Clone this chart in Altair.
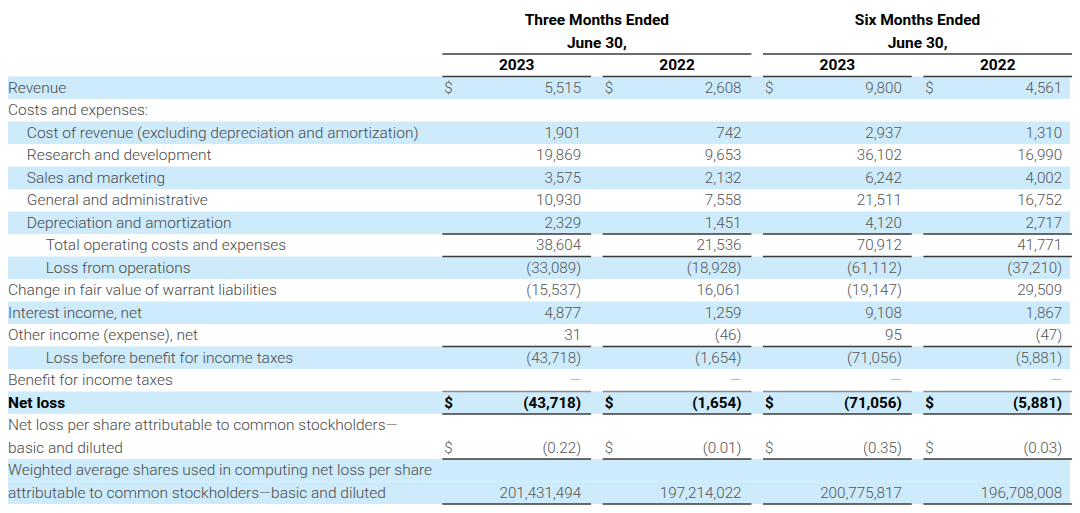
import altair as alt
import pandas as pd

# ---------------- data ----------------
labels = [
    "Revenue",
    "Costs and expenses:",
    "Cost of revenue (excluding depreciation and amortization)",
    "Research and development",
    "Sales and marketing",
    "General and administrative",
    "Depreciation and amortization",
    "Total operating costs and expenses",
    "Loss from operations",
    "Change in fair value of warrant liabilities",
    "Interest income, net",
    "Other income (expense), net",
    "Loss before benefit for income taxes",
    "Benefit for income taxes",
    "Net loss",
    "Net loss per share attributable to common stockholders\u2014",
    "basic and diluted",
    "Weighted average shares used in computing net loss per share",
    "attributable to common stockholders\u2014basic and diluted",
]
indent = [0, 0, 1, 1, 1, 1, 1, 2, 2, 0, 0, 0, 2, 0, 0, 0, 0, 0, 0]

group_titles = ["Three Months Ended", "Six Months Ended"]
group_sub = ["June 30,", "June 30,"]
years = ["2023", "2022", "2023", "2022"]

# line index of each value row
value_lines = [0, 2, 3, 4, 5, 6, 7, 8, 9, 10, 11, 12, 13, 14, 16, 18]
three_2023 = [5515, 1901, 19869, 3575, 10930, 2329, 38604, -33089, -15537, 4877, 31, -43718, 0, -43718, -0.22, 201431494]
three_2022 = [2608, 742, 9653, 2132, 7558, 1451, 21536, -18928, 16061, 1259, -46, -1654, 0, -1654, -0.01, 197214022]
six_2023 = [9800, 2937, 36102, 6242, 21511, 4120, 70912, -61112, -19147, 9108, 95, -71056, 0, -71056, -0.35, 200775817]
six_2022 = [4561, 1310, 16990, 4002, 16752, 2717, 41771, -37210, 29509, 1867, -47, -5881, 0, -5881, -0.03, 196708008]
columns = [three_2023, three_2022, six_2023, six_2022]

shaded_lines = [0, 2, 4, 6, 8, 10, 12, 14, 17, 18]
bold_lines = [14]
dollar_lines = [0, 14, 16]
rule_lines = [-0.5, 6.5, 7.5, 11.5, 13.5, 14.5, 16.5, 18.5]

# ---------------- layout ----------------
LABEL_X0 = 5
INDENT = 19
COL_LEFT0 = 443
COL_STEP = 161.7
COL_W = 150
FONT = "Roboto"
FS_LAB = 15.5
FS_VAL = 15.2
FS_HEAD = 15.5


def col_left(k):
    return COL_LEFT0 + COL_STEP * k


def fmt(v):
    if v == 0:
        return "\u2014"
    if abs(v) < 1:
        s = f"{abs(v):.2f}"
    else:
        s = f"{abs(v):,.0f}"
    return f"({s})" if v < 0 else s


xscale = alt.Scale(domain=[5, 1078], range=[0, 1064], nice=False, zero=False)
yscale = alt.Scale(domain=[-3.544, 18.55], range=[0, 497], nice=False, zero=False)


def X(f="x"):
    return alt.X(f"{f}:Q", scale=xscale, axis=None)


def Y(f="y"):
    return alt.Y(f"{f}:Q", scale=yscale, axis=None)


# shading
shade_df = pd.DataFrame({
    "x": [5] * len(shaded_lines),
    "x2": [1076] * len(shaded_lines),
    "y": [l - 0.5 for l in shaded_lines],
    "y2": [l + 0.5 for l in shaded_lines],
})
shade = alt.Chart(shade_df).mark_rect(color="#CDEBFB").encode(
    x=X(), x2="x2:Q", y=Y(), y2="y2:Q")

# row labels
lab_df = pd.DataFrame({
    "x": [LABEL_X0 + INDENT * i for i in indent],
    "y": list(range(len(labels))),
    "t": labels,
    "b": [i in bold_lines for i in range(len(labels))],
})
lab_norm = alt.Chart(lab_df[~lab_df.b]).mark_text(
    align="left", baseline="middle", font=FONT, fontSize=FS_LAB, fontWeight=300, color="#4a4a4a"
).encode(x=X(), y=Y(), text="t:N")
lab_bold = alt.Chart(lab_df[lab_df.b]).mark_text(
    align="left", baseline="middle", font=FONT, fontSize=FS_LAB, fontWeight="bold", color="#000"
).encode(x=X(), y=Y(), text="t:N")

# values
rows = []
for k, col in enumerate(columns):
    for line, v in zip(value_lines, col):
        rows.append({"x": col_left(k) + COL_W - 10, "y": line, "t": fmt(v),
                     "b": line in bold_lines, "dash": v == 0})
val_df = pd.DataFrame(rows)
val_norm = alt.Chart(val_df[(~val_df.b) & (~val_df.dash)]).mark_text(
    align="right", baseline="middle", font=FONT, fontSize=FS_VAL, fontWeight=300, color="#555"
).encode(x=X(), y=Y(), text="t:N")
val_dash = alt.Chart(val_df[val_df.dash]).mark_text(
    align="right", baseline="middle", font=FONT, fontSize=FS_VAL, fontWeight=300, color="#aaa"
).encode(x=X(), y=Y(), text="t:N")
val_bold = alt.Chart(val_df[val_df.b]).mark_text(
    align="right", baseline="middle", font=FONT, fontSize=FS_VAL, fontWeight="bold", color="#000"
).encode(x=X(), y=Y(), text="t:N")

# dollar signs
drows = []
for k in range(4):
    for line in dollar_lines:
        drows.append({"x": col_left(k) + 2, "y": line, "t": "$", "b": line in bold_lines})
d_df = pd.DataFrame(drows)
dol_norm = alt.Chart(d_df[~d_df.b]).mark_text(
    align="left", baseline="middle", font=FONT, fontSize=FS_VAL, fontWeight=300, color="#555"
).encode(x=X(), y=Y(), text="t:N")
dol_bold = alt.Chart(d_df[d_df.b]).mark_text(
    align="left", baseline="middle", font=FONT, fontSize=FS_VAL, fontWeight="bold", color="#000"
).encode(x=X(), y=Y(), text="t:N")

# rules under value cells
rrows = []
for k in range(4):
    for r in rule_lines:
        rrows.append({"x": col_left(k), "x2": col_left(k) + COL_W, "y": r,
                      "c": "#8a8a8a" if r == 13.5 else "#3a3a3a"})
for g in range(2):
    rrows.append({"x": col_left(2 * g), "x2": col_left(2 * g + 1) + COL_W, "y": -1.5, "c": "#3a3a3a"})
r_df = pd.DataFrame(rrows)
rules = alt.Chart(r_df).mark_rule(strokeWidth=1.5).encode(
    x=X(), x2="x2:Q", y=Y(), color=alt.Color("c:N", scale=None))

# headers
hrows = []
for g in range(2):
    cx = (col_left(2 * g) + col_left(2 * g + 1) + COL_W) / 2
    hrows.append({"x": cx, "y": -3, "t": group_titles[g]})
    hrows.append({"x": cx, "y": -2, "t": group_sub[g]})
for k in range(4):
    hrows.append({"x": col_left(k) + COL_W / 2, "y": -1, "t": years[k]})
h_df = pd.DataFrame(hrows)
heads = alt.Chart(h_df).mark_text(
    align="center", baseline="middle", font=FONT, fontSize=FS_HEAD, fontWeight="bold", color="#000"
).encode(x=X(), y=Y(), text="t:N")

chart = alt.layer(
    shade, rules, lab_norm, lab_bold, val_norm, val_dash, val_bold, dol_norm, dol_bold, heads
).properties(
    width=1064, height=497,
    autosize=alt.AutoSizeParams(type="fit", contains="padding"),
    padding=0,
).configure_view(stroke=None)

chart.save("out.html", embed_options={"renderer": "svg", "actions": False})
